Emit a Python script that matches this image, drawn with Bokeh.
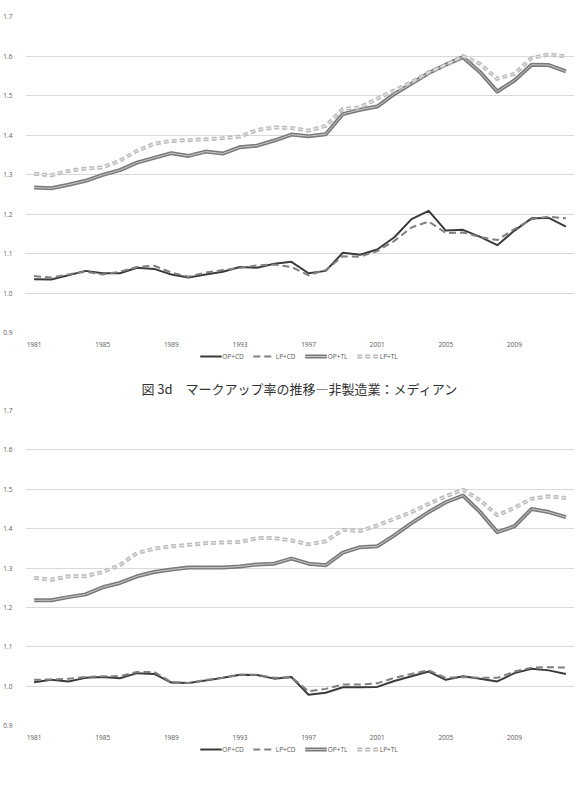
from bokeh.plotting import figure
from bokeh.models import Range1d, FixedTicker, PrintfTickFormatter, Legend, LegendItem
from bokeh.layouts import column
from bokeh.embed import file_html
from bokeh.resources import INLINE

years = list(range(1981, 2013))
x_tick_years = [1981, 1985, 1989, 1993, 1997, 2001, 2005, 2009]
y_ticks = [0.9, 1.0, 1.1, 1.2, 1.3, 1.4, 1.5, 1.6, 1.7]
series_names = ["OP+CD", "LP+CD", "OP+TL", "LP+TL"]

# upper chart (title cut off in the reference)
op_cd_top = [1.035, 1.034, 1.045, 1.056, 1.050, 1.050, 1.064, 1.061, 1.047, 1.039,
             1.047, 1.054, 1.066, 1.064, 1.074, 1.079, 1.050, 1.056, 1.102, 1.097,
             1.110, 1.141, 1.187, 1.208, 1.158, 1.160, 1.142, 1.121, 1.158, 1.189,
             1.190, 1.168]
lp_cd_top = [1.043, 1.039, 1.047, 1.054, 1.047, 1.054, 1.066, 1.069, 1.052, 1.041,
             1.052, 1.058, 1.064, 1.070, 1.072, 1.066, 1.045, 1.058, 1.093, 1.092,
             1.106, 1.132, 1.166, 1.181, 1.152, 1.153, 1.142, 1.134, 1.162, 1.187,
             1.193, 1.189]
op_tl_top = [1.267, 1.265, 1.274, 1.284, 1.299, 1.311, 1.330, 1.342, 1.354, 1.347,
             1.358, 1.353, 1.369, 1.373, 1.386, 1.401, 1.397, 1.402, 1.453, 1.464,
             1.472, 1.504, 1.530, 1.557, 1.578, 1.597, 1.559, 1.510, 1.538, 1.578,
             1.577, 1.561]
lp_tl_top = [1.302, 1.298, 1.309, 1.315, 1.318, 1.335, 1.360, 1.378, 1.385, 1.387,
             1.389, 1.392, 1.396, 1.413, 1.419, 1.418, 1.411, 1.423, 1.466, 1.470,
             1.492, 1.513, 1.534, 1.559, 1.578, 1.600, 1.580, 1.542, 1.555, 1.595,
             1.604, 1.599]

# lower chart: 図 3d
title_bottom = "図 3d\u3000マークアップ率の推移―非製造業：メディアン"
op_cd_bot = [1.010, 1.016, 1.012, 1.021, 1.023, 1.020, 1.033, 1.031, 1.009, 1.008,
             1.014, 1.021, 1.029, 1.028, 1.019, 1.023, 0.978, 0.983, 0.997, 0.997,
             0.998, 1.013, 1.025, 1.037, 1.016, 1.025, 1.019, 1.012, 1.033, 1.044,
             1.040, 1.031]
lp_cd_bot = [1.016, 1.017, 1.019, 1.023, 1.025, 1.025, 1.036, 1.036, 1.010, 1.008,
             1.016, 1.021, 1.029, 1.029, 1.021, 1.023, 0.987, 0.993, 1.004, 1.004,
             1.007, 1.021, 1.031, 1.040, 1.021, 1.023, 1.021, 1.021, 1.037, 1.047,
             1.048, 1.047]
op_tl_bot = [1.218, 1.218, 1.226, 1.233, 1.251, 1.262, 1.279, 1.290, 1.296, 1.301,
             1.301, 1.301, 1.304, 1.309, 1.311, 1.324, 1.311, 1.307, 1.339, 1.353,
             1.355, 1.383, 1.414, 1.442, 1.467, 1.484, 1.442, 1.391, 1.406, 1.450,
             1.442, 1.429]
lp_tl_bot = [1.275, 1.270, 1.279, 1.279, 1.290, 1.307, 1.338, 1.349, 1.355, 1.359,
             1.363, 1.365, 1.366, 1.376, 1.376, 1.370, 1.360, 1.368, 1.397, 1.394,
             1.408, 1.425, 1.442, 1.463, 1.482, 1.499, 1.472, 1.434, 1.453, 1.476,
             1.482, 1.478]

FONT = "Open Sans"
LBL = "#595959"

STYLES = [
    [dict(line_color="#3b3b3b", line_width=2)],
    [dict(line_color="#808080", line_width=2, line_dash="7 4")],
    [dict(line_color="#7a7a7a", line_width=4), dict(line_color="#c8c8c8", line_width=1)],
    [dict(line_color="#bcbcbc", line_width=4, line_dash="5 3"),
     dict(line_color="#ececec", line_width=1, line_dash="5 3")],
]


def draw_series(p, data):
    groups = []
    for vals, styles in zip(data, STYLES):
        rs = [p.line(years, vals, line_join="round", **st) for st in styles]
        groups.append(rs)
    return groups


def make_chart(height, border_top, border_bottom, data, title=None):
    p = figure(width=577, height=height, output_backend="svg", toolbar_location=None,
               x_range=Range1d(1980.5, 2012.5), y_range=Range1d(0.9, 1.7),
               min_border_left=18, min_border_right=3,
               min_border_top=border_top, min_border_bottom=border_bottom)
    p.outline_line_color = None
    p.xgrid.visible = False
    p.ygrid.ticker = FixedTicker(ticks=y_ticks)
    p.ygrid.grid_line_color = "#d9d9d9"
    p.ygrid.grid_line_width = 1

    for ax in (p.xaxis[0], p.yaxis[0]):
        ax.axis_line_color = None
        ax.major_tick_line_color = None
        ax.minor_tick_line_color = None
        ax.major_label_text_font = FONT
        ax.major_label_text_font_size = "6.5px"
        ax.major_label_text_color = LBL
    p.xaxis.ticker = FixedTicker(ticks=x_tick_years)
    p.xaxis.major_label_standoff = 3
    p.yaxis.ticker = FixedTicker(ticks=y_ticks)
    p.yaxis.formatter = PrintfTickFormatter(format="%.1f")
    p.yaxis.major_label_standoff = 7

    draw_series(p, data)

    if title:
        p.title.text = title
        p.title.align = "center"
        p.title.text_font = "Noto Sans CJK JP"
        p.title.text_font_size = "13px"
        p.title.text_font_style = "normal"
        p.title.text_color = "#333333"
        p.title.standoff = 26
    return p


def make_legend(data, height):
    # the lines are drawn outside this strip's ranges; only their legend swatches show
    q = figure(width=577, height=height, output_backend="svg", toolbar_location=None,
               x_range=Range1d(0, 1), y_range=Range1d(0, 1),
               min_border=0, x_axis_type=None, y_axis_type=None)
    q.outline_line_color = None
    q.grid.visible = False
    groups = draw_series(q, data)
    items = [LegendItem(label=name, renderers=rs) for name, rs in zip(series_names, groups)]
    legend = Legend(items=items, orientation="horizontal", location="center",
                    border_line_color=None, background_fill_alpha=0,
                    label_text_font=FONT, label_text_font_size="6.5px",
                    label_text_color=LBL, glyph_width=22, glyph_height=10,
                    label_height=10, spacing=9, padding=0, margin=0,
                    label_standoff=1)
    q.add_layout(legend)
    return q


p1 = make_chart(349, 16, 17, (op_cd_top, lp_cd_top, op_tl_top, lp_tl_top))
l1 = make_legend((op_cd_top, lp_cd_top, op_tl_top, lp_tl_top), 14)
p2 = make_chart(379, 47, 17, (op_cd_bot, lp_cd_bot, op_tl_bot, lp_tl_bot), title=title_bottom)
l2 = make_legend((op_cd_bot, lp_cd_bot, op_tl_bot, lp_tl_bot), 14)

layout = column(p1, l1, p2, l2)
open("out.html", "w").write(file_html(layout, INLINE))
